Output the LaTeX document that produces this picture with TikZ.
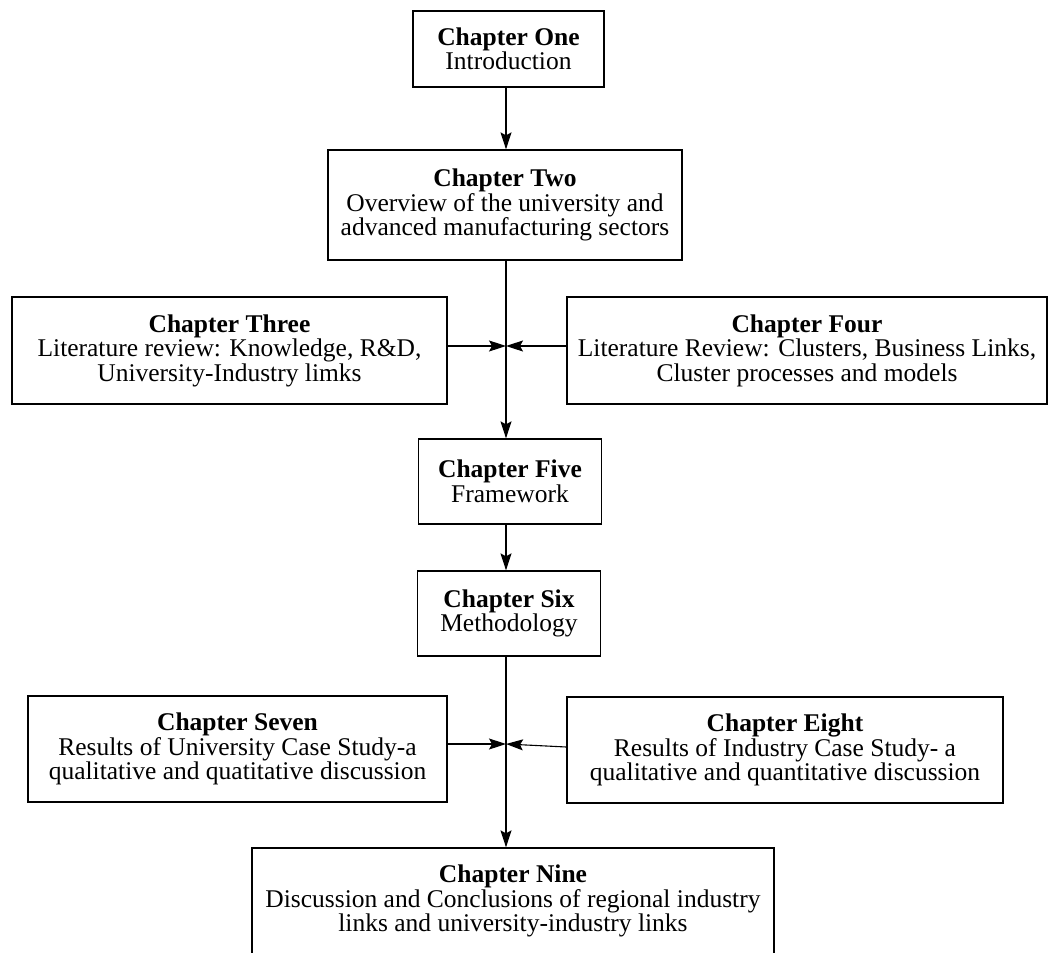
\documentclass[tikz,border=0pt]{standalone}
\usepackage{fontspec}
\setmainfont{Liberation Serif}
\usetikzlibrary{arrows.meta,calc}
\begin{document}
\begin{tikzpicture}[x=1pt,y=-1pt,
  chapbox/.style={draw, line width=1.3pt, align=center, inner sep=0pt,
                  font=\fontsize{25.5}{24.5}\selectfont},
  link/.style={line width=1.1pt, -{Stealth[length=17pt,width=11pt,inset=3pt]}}]
\useasboundingbox (0,0) rectangle (1050,953);

% chapter boxes
\node[chapbox, minimum width=191pt, minimum height=76pt] (ch1) at (508.5,49)
  {\textbf{Chapter One}\\Introduction};
\node[chapbox, minimum width=354pt, minimum height=110pt] (ch2) at (505,205)
  {\textbf{Chapter Two}\\Overview of the university and\\advanced manufacturing sectors};
\node[chapbox, minimum width=435pt, minimum height=107pt] (ch3) at (229.5,350.5)
  {\textbf{Chapter Three}\\Literature review: Knowledge, R\&D,\\University-Industry limks};
\node[chapbox, minimum width=480pt, minimum height=107pt] (ch4) at (807,350.5)
  {\textbf{Chapter Four}\\Literature Review: Clusters, Business Links,\\Cluster processes and models};
\node[chapbox, minimum width=183pt, minimum height=85pt] (ch5) at (510,481.5)
  {\textbf{Chapter Five}\\Framework};
\node[chapbox, minimum width=183pt, minimum height=85pt] (ch6) at (509,613.5)
  {\textbf{Chapter Six}\\Methodology};
\node[chapbox, minimum width=419pt, minimum height=106pt] (ch7) at (237.5,749)
  {\textbf{Chapter Seven}\\Results of University Case Study-a\\qualitative and quatitative discussion};
\node[chapbox, minimum width=436pt, minimum height=106pt] (ch8) at (785,750)
  {\textbf{Chapter Eight}\\Results of Industry Case Study- a\\qualitative and quantitative discussion};
\node[chapbox, minimum width=522pt, minimum height=106pt] (ch9) at (513,901)
  {\textbf{Chapter Nine}\\Discussion and Conclusions of regional industry\\links and university-industry links};

% junctions on the main spine
\coordinate (j1) at (506,346);
\coordinate (j2) at (506,744);

% connectors
\draw[link] (ch1.south -| j1) -- (ch2.north -| j1);
\draw[link] (ch2.south -| j1) -- (ch5.north -| j1);
\draw[link] (ch3.east |- j1) -- (j1);
\draw[link] (ch4.west |- j1) -- (j1);
\draw[link] (ch5.south -| j1) -- (ch6.north -| j1);
\draw[link] (ch6.south -| j1) -- (ch9.north -| j1);
\draw[link] (ch7.east |- j2) -- (j2);
\draw[link] ($(ch8.west |- j2)+(0,3)$) -- (j2);
\end{tikzpicture}
\end{document}
